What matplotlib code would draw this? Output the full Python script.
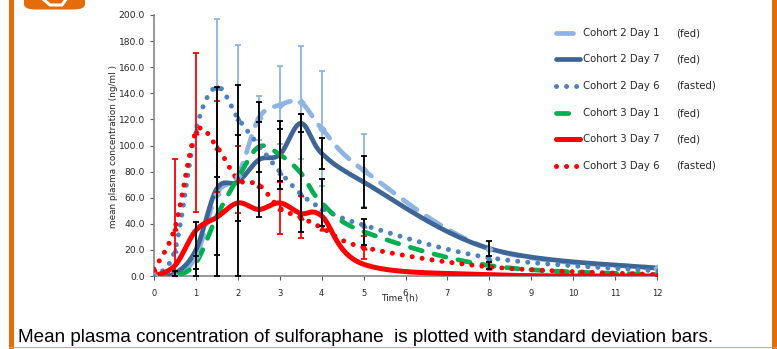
import matplotlib

matplotlib.use("Agg")
import matplotlib.pyplot as plt
import numpy as np
from matplotlib.lines import Line2D
from matplotlib.patches import FancyBboxPatch, Rectangle

# sampling times (h)
time_h = [0, 0.5, 1, 1.5, 2, 2.5, 3, 3.5, 4, 5, 8, 12]

# mean plasma concentration (ng/ml)
c2_day1 = [0, 0, 15, 63, 77, 121, 131, 133, 113, 81, 21, 6]
c2_day7 = [0, 2, 20, 67, 72, 89, 93, 117, 94, 72, 21, 6]
c2_day6 = [0, 20, 112, 145, 121, 100, 80, 63, 52, 39, 14, 4]
c3_day1 = [0, 0, 10, 46, 75, 99, 93, 79, 56, 34, 8, 1]
c3_day7 = [0, 8, 35, 45, 56, 51, 56, 48, 46, 9, 1, 0]
c3_day6 = [5, 37, 110, 99, 74, 70, 52, 45, 37, 22, 7, 1]

# standard deviations
sd_c2_day1 = [0, 0, 0, 134, 100, 17, 30, 43, 44, 28, 0, 0]
sd_c2_day7 = [0, 2, 21, 78, 74, 44, 26, 7, 12, 20, 6, 0]
sd_c3_day1 = [0, 0, 5, 30, 33, 19, 20, 45, 18, 10, 3, 0]
sd_c3_day6 = [0, 53, 61, 35, 26, 0, 20, 16, 0, 9, 0, 0]

labels = ["Cohort 2 Day 1", "Cohort 2 Day 7", "Cohort 2 Day 6",
          "Cohort 3 Day 1", "Cohort 3 Day 7", "Cohort 3 Day 6"]
conditions = ["(fed)", "(fed)", "(fasted)", "(fed)", "(fed)", "(fasted)"]

LIGHT = "#8db4e2"
DARK = "#3d6596"
MID = "#4f81bd"
GREEN = "#00b050"
RED = "#ff0000"
ORANGE = "#e46c0a"
INK = "#262626"


def smooth(x, y, n=30):
    # Excel-style smoothed line: cubic Bezier through every point
    x = np.asarray(x, float)
    y = np.asarray(y, float)
    px, py = [], []
    for i in range(len(x) - 1):
        i0, i3 = max(i - 1, 0), min(i + 2, len(x) - 1)
        c1x = x[i] + (x[i + 1] - x[i0]) / 6
        c1y = y[i] + (y[i + 1] - y[i0]) / 6
        c2x = x[i + 1] - (x[i3] - x[i]) / 6
        c2y = y[i + 1] - (y[i3] - y[i]) / 6
        t = np.linspace(0, 1, n)
        a, b, c, d = (1 - t) ** 3, 3 * (1 - t) ** 2 * t, 3 * (1 - t) * t ** 2, t ** 3
        px.append(a * x[i] + b * c1x + c * c2x + d * x[i + 1])
        py.append(a * y[i] + b * c1y + c * c2y + d * y[i + 1])
    return np.concatenate(px), np.concatenate(py)


styles = [
    dict(color=LIGHT, lw=3.4, dashes=(3.6, 2.4), dash_capstyle="round"),
    dict(color=DARK, lw=3.4, solid_capstyle="round"),
    dict(color=MID, lw=3.6, dashes=(0.01, 2.0), dash_capstyle="round"),
    dict(color=GREEN, lw=3.4, dashes=(2.6, 2.6), dash_capstyle="round"),
    dict(color=RED, lw=3.6, solid_capstyle="round"),
    dict(color=RED, lw=3.6, dashes=(0.01, 2.0), dash_capstyle="round"),
]
series = [c2_day1, c2_day7, c2_day6, c3_day1, c3_day7, c3_day6]

fig = plt.figure(figsize=(7.77, 3.49), dpi=100)
W, H = 777, 349
ax = fig.add_axes([154 / W, 1 - 276 / H, (657 - 154) / W, (276 - 15) / H])

for y, st in zip(series, styles):
    sx, sy = smooth(time_h, y)
    ax.plot(sx, sy, zorder=3, **st)

# data point markers
ax.plot(time_h, c2_day1, "D", color=LIGHT, ms=3.5, zorder=3)
ax.plot(time_h, c2_day6, "^", color=MID, ms=3.5, zorder=3)
ax.plot(time_h, c3_day6, "^", color=RED, ms=3.5, zorder=3)


def bars(y, sd, color):
    y = np.asarray(y, float)
    sd = np.asarray(sd, float)
    m = sd > 0
    lo = np.minimum(sd, y)
    ax.errorbar(np.asarray(time_h)[m], y[m], yerr=[lo[m], sd[m]], fmt="none",
                ecolor=color, elinewidth=1.3, capsize=2, capthick=1.3, zorder=4)


bars(c2_day1, sd_c2_day1, LIGHT)
bars(c3_day6, sd_c3_day6, RED)
bars(c2_day7, sd_c2_day7, "black")
bars(c3_day1, sd_c3_day1, "black")

ax.set_xlim(0, 12)
ax.set_ylim(0, 200)
ax.set_xticks(range(0, 13))
ax.set_yticks(np.arange(0, 201, 20))
ax.set_yticklabels([f"{v:.1f}" for v in np.arange(0, 201, 20)])
ax.tick_params(axis="y", labelsize=6.6, colors="#595959", labelcolor=INK, length=3, width=0.8)
ax.tick_params(axis="x", labelsize=6.0, colors="#595959", labelcolor=INK, length=3, width=0.8, pad=6)
for lab in ax.get_xticklabels():
    lab.set_fontfamily("Liberation Sans Narrow")
for s in ("top", "right"):
    ax.spines[s].set_visible(False)
for s in ("left", "bottom"):
    ax.spines[s].set_color("#868686")
    ax.spines[s].set_linewidth(1.2)
ax.patch.set_alpha(0)

fig.text(400 / W, 1 - 298 / H, "Time (h)", ha="center", va="center", fontsize=6.4,
         family="Liberation Sans Narrow", color=INK)
fig.text(113 / W, 1 - 146 / H, "mean plasma concentration (ng/ml )", rotation=90,
         ha="center", va="center", fontsize=6.4, color=INK)

# legend, drawn by hand to keep the condition column aligned
rows = [33, 59, 86, 113, 139, 166]
for yy, st, lab, cond in zip(rows, styles, labels, conditions):
    yf = 1 - yy / H
    ln = Line2D([556 / W, 580 / W], [yf, yf], transform=fig.transFigure, **st)
    fig.add_artist(ln)
    fig.text(583 / W, yf, lab, ha="left", va="center", fontsize=7.3, color=INK)
    fig.text(676 / W, yf, cond, ha="left", va="center", fontsize=7.3, color=INK)

fig.text(18 / W, 1 - 337 / H, "Mean plasma concentration of sulforaphane  is plotted with standard deviation bars.",
         ha="left", va="center", fontsize=13.6, family="Liberation Sans", color="black")

# slide frame
fig.add_artist(Rectangle((9 / W, 0), 5 / W, 1, transform=fig.transFigure, color=ORANGE, lw=0))
fig.add_artist(Rectangle((772 / W, 0), 5 / W, 1, transform=fig.transFigure, color=ORANGE, lw=0))
fig.add_artist(Rectangle((9 / W, 1 / H), 768 / W, 1.2 / H, transform=fig.transFigure, color="#f0a060", lw=0))
fig.add_artist(FancyBboxPatch((24 / W, 1 - 9.5 / H), 61 / W, 20 / H, boxstyle="round,pad=0,rounding_size=0.015",
                              transform=fig.transFigure, color=ORANGE, lw=0))
fig.add_artist(Line2D([40 / W, 50 / W, 62 / W, 68 / W], [1.01, 1 - 5 / H, 1 - 5 / H, 1.01],
                      transform=fig.transFigure, color="white", lw=2.2))

fig.savefig("out.png", dpi=100)
